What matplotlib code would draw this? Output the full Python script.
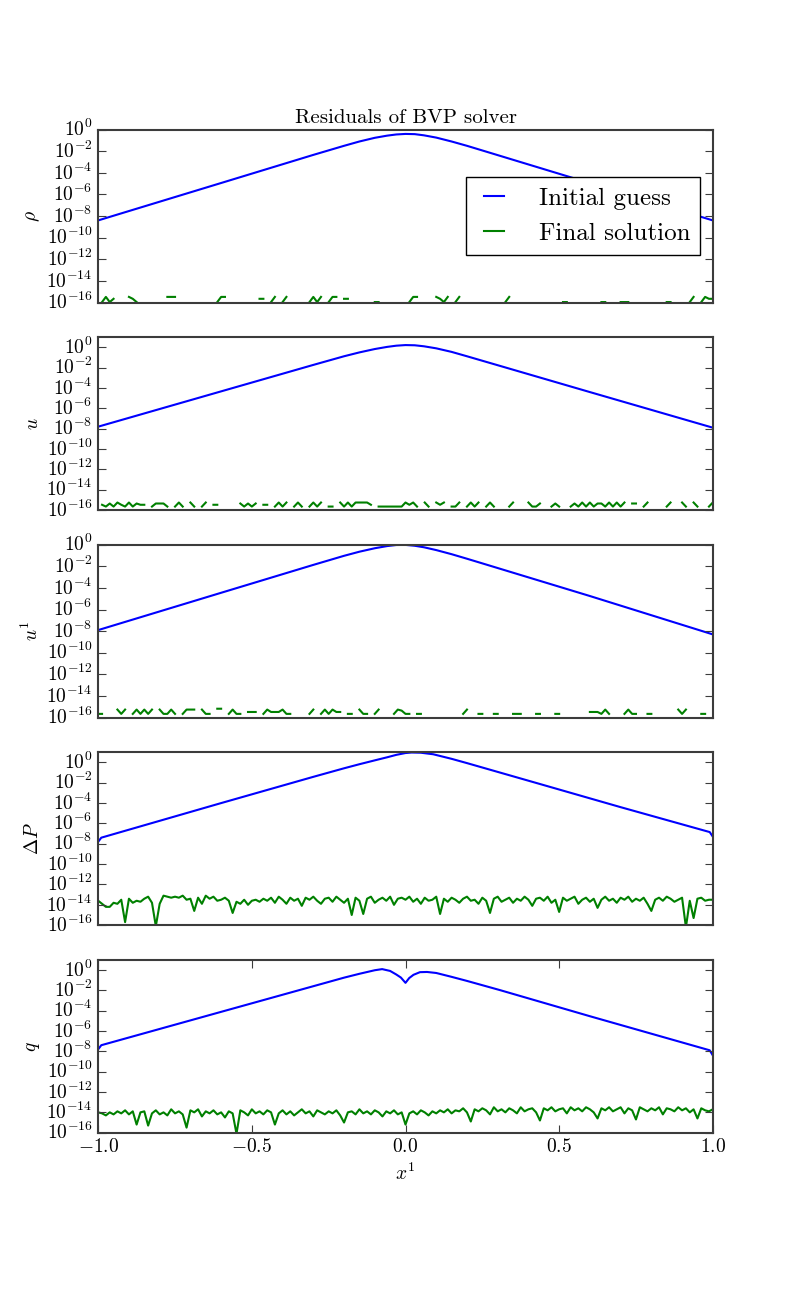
import numpy as np
import matplotlib
matplotlib.use('Agg')
import matplotlib.pyplot as plt
from matplotlib import ticker

# ---------------------------------------------------------------
# Data
# ---------------------------------------------------------------

# Initial guess residuals: knots (x, log10 residual)
rho_guess_x = [-1.0, -0.6, -0.3, -0.2, -0.15, -0.1, -0.06, -0.03, 0.0,
               0.03, 0.06, 0.1, 0.15, 0.2, 0.25, 0.6, 1.0]
rho_guess_log = [-8.4, -4.94, -2.34, -1.5, -1.1, -0.76, -0.56, -0.45, -0.4,
                 -0.42, -0.53, -0.74, -1.1, -1.5, -1.93, -4.95, -8.4]

u_guess_x = [-1.0, -0.6, -0.3, -0.2, -0.15, -0.1, -0.06, -0.03, 0.0,
             0.03, 0.06, 0.1, 0.15, 0.2, 0.25, 0.6, 1.0]
u_guess_log = [-7.8, -4.33, -1.73, -0.88, -0.5, -0.17, 0.04, 0.16, 0.22,
               0.2, 0.1, -0.1, -0.45, -0.88, -1.32, -4.4, -7.9]

u1_guess_x = [-1.0, -0.6, -0.3, -0.2, -0.15, -0.1, -0.06, -0.03, 0.0,
              0.03, 0.06, 0.1, 0.15, 0.2, 0.25, 0.6, 1.0]
u1_guess_log = [-7.9, -4.45, -1.87, -1.03, -0.65, -0.33, -0.13, -0.03, -0.02,
                -0.1, -0.24, -0.5, -0.88, -1.3, -1.73, -4.75, -8.3]

dP_guess_x = [-1.0, -0.99, -0.6, -0.3, -0.2, -0.15, -0.1, -0.06, -0.03, 0.0,
              0.02, 0.05, 0.09, 0.15, 0.2, 0.4, 0.7, 0.99, 1.0]
dP_guess_log = [-7.8, -7.4, -4.0, -1.42, -0.58, -0.18, 0.2, 0.5, 0.74, 0.92,
                0.97, 0.95, 0.8, 0.35, -0.07, -1.8, -4.4, -6.85, -7.3]

q_guess_x = [-1.0, -0.99, -0.6, -0.3, -0.2, -0.15, -0.12, -0.1, -0.076,
             -0.05, -0.03, -0.015, 0.0, 0.012, 0.026, 0.047, 0.07, 0.1,
             0.15, 0.2, 0.307, 0.6, 0.99, 1.0]
q_guess_log = [-7.8, -7.4, -4.12, -1.6, -0.76, -0.38, -0.17, -0.03, 0.08,
               -0.1, -0.45, -0.75, -1.27, -0.8, -0.48, -0.22, -0.2, -0.3,
               -0.68, -1.08, -1.98, -4.55, -7.9, -8.4]

# Final solution residuals on 161 collocation points, x from -1 to 1.
# rho, u, u1: multiples of 1.11e-16 (0 = exactly zero, not drawn on log axis)
rho_final_k = [0, 1, 3, 1, 2, 0, 0, 0, 3, 2, 1, 0, 0, 0, 0, 0, 0, 0, 3, 3,
               3, 0, 0, 0, 0, 0, 0, 0, 0, 0, 0, 1, 3, 3, 0, 0, 0, 0, 0, 0,
               0, 0, 2, 2, 0, 1, 3, 0, 1, 3, 0, 0, 0, 0, 0, 1, 3, 1, 3, 0,
               1, 3, 3, 0, 2, 2, 0, 0, 0, 0, 0, 0, 1, 1, 0, 0, 0, 0, 0, 0,
               0, 1, 3, 3, 0, 0, 0, 0, 3, 2, 1, 3, 0, 1, 3, 0, 0, 0, 0, 0,
               0, 0, 0, 0, 0, 0, 1, 3, 0, 0, 0, 0, 0, 0, 0, 0, 0, 0, 0, 0,
               0, 1, 1, 0, 0, 0, 0, 0, 0, 0, 0, 1, 1, 0, 0, 0, 1, 1, 1, 0,
               0, 0, 0, 0, 0, 0, 0, 0, 1, 1, 0, 0, 0, 0, 1, 3, 0, 1, 3, 2,
               2]
u_final_k = [0, 3, 2, 4, 2, 5, 3, 2, 5, 2, 4, 3, 3, 0, 2, 4, 4, 4, 2, 0,
             2, 5, 2, 0, 5, 2, 0, 2, 5, 0, 3, 3, 0, 0, 0, 0, 0, 4, 2, 4,
             2, 4, 0, 3, 3, 0, 2, 5, 2, 5, 0, 2, 5, 2, 0, 2, 5, 2, 5, 0,
             2, 2, 0, 5, 2, 5, 2, 5, 5, 5, 5, 3, 0, 2, 2, 2, 2, 2, 2, 2,
             5, 3, 5, 2, 0, 5, 2, 0, 5, 3, 5, 0, 2, 2, 5, 0, 2, 5, 2, 5,
             0, 2, 5, 2, 0, 0, 0, 2, 5, 0, 0, 0, 5, 2, 2, 4, 0, 0, 2, 4,
             2, 0, 0, 2, 4, 2, 5, 2, 5, 2, 4, 4, 2, 5, 2, 5, 2, 5, 0, 4,
             4, 0, 2, 5, 0, 0, 0, 0, 2, 5, 0, 0, 5, 2, 0, 5, 2, 0, 0, 2,
             5]
u1_final_k = [2, 2, 0, 2, 0, 5, 2, 5, 0, 2, 5, 2, 5, 2, 5, 0, 5, 2, 2, 5,
              2, 0, 2, 5, 5, 5, 0, 5, 2, 2, 0, 6, 6, 0, 2, 5, 2, 2, 0, 3,
              3, 3, 0, 2, 5, 3, 3, 3, 5, 2, 2, 0, 0, 2, 0, 2, 5, 0, 2, 5,
              2, 5, 3, 3, 0, 2, 2, 0, 5, 2, 2, 0, 2, 5, 0, 0, 0, 2, 5, 4,
              2, 2, 0, 2, 2, 0, 0, 0, 0, 0, 0, 0, 0, 0, 0, 2, 5, 0, 0, 2,
              2, 0, 0, 2, 2, 0, 0, 0, 2, 2, 2, 0, 0, 0, 2, 2, 0, 0, 0, 2,
              2, 0, 0, 0, 0, 0, 0, 0, 3, 3, 3, 2, 5, 2, 0, 0, 0, 2, 5, 2,
              2, 0, 0, 2, 2, 0, 0, 0, 0, 0, 0, 5, 2, 5, 0, 0, 0, 2, 2, 0,
              0]
eps_unit = 1.11e-16

# dP, q: log10 of the residual
dP_final_log = [-13.6, -13.9, -14.2, -14.2, -13.8, -13.9, -13.5, -15.7, -13.4, -13.8,
                -13.6, -13.7, -13.4, -13.2, -13.8, -16.1, -13.9, -13.1, -13.2, -13.3,
                -13.2, -13.3, -13.1, -13.5, -13.4, -14.6, -13.3, -13.9, -13.1, -13.4,
                -13.2, -13.6, -13.5, -13.3, -13.6, -14.8, -13.7, -13.9, -13.5, -14.0,
                -13.6, -13.5, -13.7, -13.4, -13.6, -13.3, -13.8, -13.2, -13.5, -13.9,
                -13.3, -13.6, -13.4, -14.1, -13.3, -13.5, -13.2, -13.6, -13.9, -13.4,
                -13.3, -13.7, -13.2, -13.5, -13.8, -13.4, -15.0, -13.3, -13.6, -14.9,
                -13.4, -13.2, -13.8, -13.5, -13.3, -13.6, -13.2, -14.0, -13.4, -13.3,
                -13.5, -13.2, -13.7, -13.4, -13.9, -13.3, -13.6, -13.5, -13.2, -14.9,
                -13.4, -13.7, -13.3, -13.5, -13.8, -13.4, -13.2, -13.6, -13.5, -13.9,
                -13.3, -13.6, -14.8, -13.4, -13.2, -13.7, -13.5, -13.3, -13.8, -13.4,
                -13.6, -13.2, -13.5, -14.1, -13.4, -13.3, -13.6, -13.2, -13.8, -13.5,
                -14.7, -13.3, -13.6, -13.4, -13.2, -13.9, -13.5, -13.3, -13.7, -13.4,
                -14.3, -13.5, -13.2, -13.6, -13.4, -13.8, -13.3, -13.5, -13.2, -13.7,
                -13.4, -13.6, -13.3, -13.9, -14.6, -13.5, -13.3, -13.6, -13.2, -13.4,
                -13.7, -13.5, -13.3, -16.2, -13.6, -15.3, -13.4, -13.3, -13.6, -13.5,
                -13.5]
q_final_log = [-14.0, -14.1, -14.3, -14.0, -14.2, -13.9, -14.1, -13.8, -14.2, -13.9,
               -15.2, -14.0, -13.9, -15.3, -14.1, -13.8, -14.2, -14.0, -14.3, -13.7,
               -14.1, -13.9, -14.2, -15.5, -13.8, -14.0, -13.7, -14.4, -13.9, -14.1,
               -13.8, -14.2, -14.0, -14.5, -13.9, -14.1, -16.1, -13.8, -14.0, -14.3,
               -13.7, -14.1, -13.9, -14.2, -13.8, -14.0, -15.2, -14.1, -13.8, -14.2,
               -13.9, -14.3, -14.0, -13.7, -14.1, -13.9, -14.4, -13.8, -14.0, -14.2,
               -13.9, -14.1, -13.8, -14.3, -15.0, -14.0, -13.9, -14.2, -13.7, -14.1,
               -13.9, -14.2, -13.8, -14.0, -14.4, -13.9, -14.1, -13.8, -14.2, -14.0,
               -15.2, -14.1, -13.9, -14.2, -13.8, -14.0, -14.3, -13.9, -14.1, -13.8,
               -14.0, -13.7, -14.1, -13.8, -13.9, -13.6, -14.0, -14.9, -13.7, -13.9,
               -13.6, -13.8, -14.2, -13.5, -13.9, -13.7, -14.0, -13.6, -13.8, -14.1,
               -13.5, -13.9, -13.7, -13.6, -14.0, -14.8, -13.6, -13.8, -13.5, -13.9,
               -13.7, -13.6, -14.1, -13.5, -13.8, -13.6, -13.9, -13.5, -13.7, -14.0,
               -14.6, -13.6, -13.8, -13.5, -13.9, -13.7, -13.5, -14.1, -13.6, -13.8,
               -14.7, -13.5, -13.7, -13.9, -13.6, -13.8, -13.5, -14.2, -13.6, -13.7,
               -13.9, -13.5, -13.8, -13.6, -14.0, -13.7, -14.6, -13.6, -13.8, -13.9,
               -13.7]

ylabels = [r'$\rho$', r'$u$', r'$u^1$', r'$\Delta P$', r'$q$']
ytops = [1e0, 1e1, 1e0, 1e1, 1e1]

# ---------------------------------------------------------------
# Style
# ---------------------------------------------------------------
plt.style.use('classic')
plt.rcParams.update({
    'font.family': 'serif',
    'font.serif': ['cmr10', 'DejaVu Serif'],
    'mathtext.fontset': 'cm',
    'axes.formatter.use_mathtext': True,
    'font.size': 14,
    'axes.edgecolor': '#3c3c3c',
    'axes.linewidth': 1.5,
    'xtick.color': '#3c3c3c',
    'ytick.color': '#3c3c3c',
    'xtick.labelcolor': 'black',
    'ytick.labelcolor': 'black',
    'xtick.major.size': 5.5,
    'ytick.major.size': 5.5,
    'xtick.major.width': 0.8,
    'ytick.major.width': 0.8,
    'figure.facecolor': 'white',
    'savefig.facecolor': 'white',
})


def to_values(log_list):
    return 10.0 ** np.array(log_list)


def from_codes(code_list):
    k = np.array(code_list, dtype=float)
    return np.where(k > 0, k * eps_unit, np.nan)


x_final = np.linspace(-1.0, 1.0, len(dP_final_log))

guess = [
    (rho_guess_x, to_values(rho_guess_log)),
    (u_guess_x, to_values(u_guess_log)),
    (u1_guess_x, to_values(u1_guess_log)),
    (dP_guess_x, to_values(dP_guess_log)),
    (q_guess_x, to_values(q_guess_log)),
]
final = [
    from_codes(rho_final_k),
    from_codes(u_final_k),
    from_codes(u1_final_k),
    to_values(dP_final_log),
    to_values(q_final_log),
]

fig, axes = plt.subplots(5, 1, figsize=(7.92, 12.96), dpi=100)
fig.subplots_adjust(left=0.124, right=0.9, top=0.9, bottom=0.126, hspace=0.2)

for i, ax in enumerate(axes):
    gx, gy = guess[i]
    ax.plot(gx, gy, color='b', lw=1.5, label='Initial guess')
    ax.plot(x_final, final[i], color='g', lw=1.5, label='Final solution')
    ax.set_yscale('log', nonpositive='mask')
    ax.set_xlim(-1.0, 1.0)
    ax.set_ylim(1e-16, ytops[i])
    ax.set_yticks(10.0 ** np.arange(-16, 1, 2))
    ax.yaxis.set_minor_locator(ticker.NullLocator())
    ax.set_ylabel(ylabels[i], fontsize=14, labelpad=3)
    if i < 4:
        ax.tick_params(axis='x', which='both', bottom=False, top=False,
                       labelbottom=False)
    else:
        ax.set_xticks([-1.0, -0.5, 0.0, 0.5, 1.0])
        ax.xaxis.set_minor_locator(ticker.NullLocator())
        ax.set_xlabel(r'$x^1$', fontsize=14)

axes[0].set_title('Residuals of BVP solver', fontsize=15)
leg = axes[0].legend(loc='center right', fontsize=18, handlelength=1.4,
                     handletextpad=1.1, borderaxespad=0.5)
leg.get_frame().set_edgecolor('black')
leg.get_frame().set_linewidth(1.0)

fig.savefig('out.png', dpi=100)
